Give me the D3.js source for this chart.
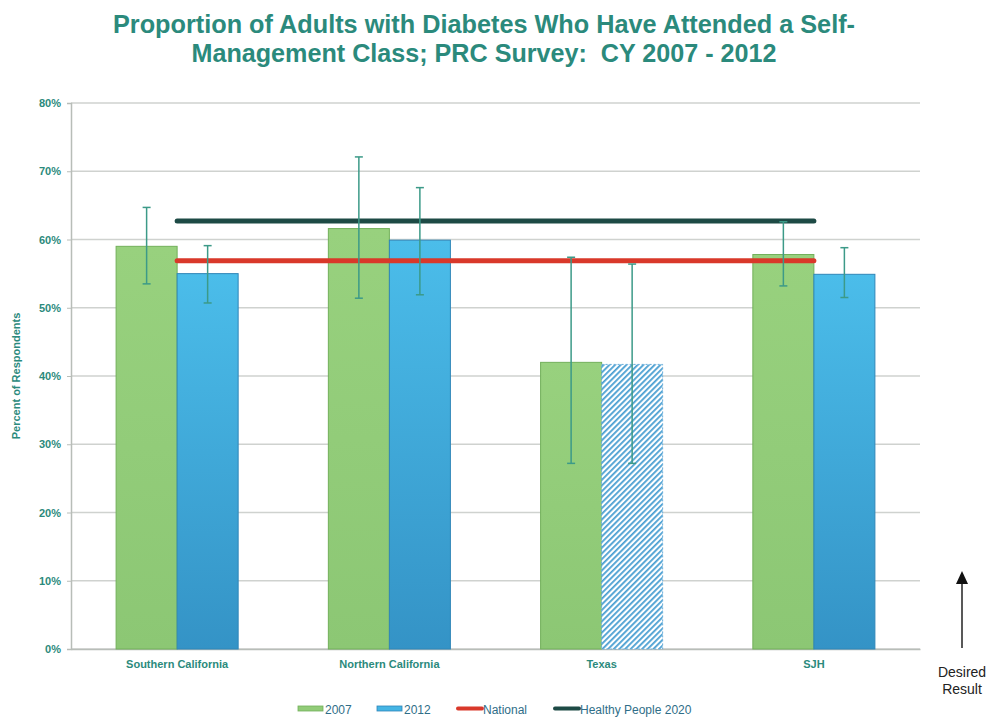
<!DOCTYPE html>
<html><head><meta charset="utf-8">
<script src="https://cdn.jsdelivr.net/npm/d3@7"></script>
<style>body{margin:0;background:#fff;} svg{display:block;font-family:"Liberation Sans",Arial,sans-serif;}</style>
</head><body><svg id="c" width="989" height="719"></svg>
<script>
const categories = ["Southern California","Northern California","Texas","SJH"];
const series = ["2007","2012"];
const values2007 = [59.0, 61.6, 42.0, 57.8];
const values2012 = [55.0, 59.9, 41.7, 54.9];
const errLow2007 = [53.5, 51.4, 27.2, 53.2];
const errHigh2007 = [64.7, 72.1, 57.4, 62.6];
const errLow2012 = [50.7, 51.9, 27.2, 51.5];
const errHigh2012 = [59.1, 67.6, 56.4, 58.8];
const hatched2012 = [false, false, true, false];
const nationalValue = 56.9;
const healthyPeopleValue = 62.7;
const yTicks = [0,10,20,30,40,50,60,70,80];
const titleLines = ["Proportion of Adults with Diabetes Who Have Attended a Self-","Management Class; PRC Survey:  CY 2007 - 2012"];

(function(){
const svg = d3.select("#c");
const teal = "#2b8a7c";
const pLeft = 71, pRight = 920, pTop = 103, pBottom = 649;

const x = d3.scaleBand().domain(categories).range([pLeft, pRight]).paddingInner(0.425).paddingOuter(0.2125);
const xs = d3.scaleBand().domain(series).range([0, x.bandwidth()]);
const y = d3.scaleLinear().domain([0, 80]).range([pBottom, pTop]);

const defs = svg.append("defs");
const g1 = defs.append("linearGradient").attr("id","gGreen").attr("x1",0).attr("y1",0).attr("x2",0).attr("y2",1);
g1.append("stop").attr("offset","0%").attr("stop-color","#98d17e");
g1.append("stop").attr("offset","100%").attr("stop-color","#8cc774");
const g2 = defs.append("linearGradient").attr("id","gBlue").attr("x1",0).attr("y1",0).attr("x2",0).attr("y2",1);
g2.append("stop").attr("offset","0%").attr("stop-color","#4bbdea");
g2.append("stop").attr("offset","100%").attr("stop-color","#3493c6");
const pat = defs.append("pattern").attr("id","hatch").attr("patternUnits","userSpaceOnUse")
  .attr("width",4).attr("height",4).attr("patternTransform","rotate(45)");
pat.append("rect").attr("width",4).attr("height",4).attr("fill","#fff");
pat.append("rect").attr("x",0).attr("width",1.8).attr("height",4).attr("fill","#4a9fd2");

// title
const titleWidths = [742, 585];
svg.append("g").selectAll("text").data(titleLines).join("text")
  .attr("x", 484).attr("y",(d,i)=>33+i*29).attr("text-anchor","middle")
  .attr("fill",teal).attr("font-size",26).attr("font-weight","bold")
  .attr("textLength",(d,i)=>titleWidths[i]).attr("lengthAdjust","spacingAndGlyphs")
  .style("white-space","pre").text(d=>d);

// gridlines
svg.append("g").selectAll("line").data(yTicks).join("line")
  .attr("x1",pLeft).attr("x2",pRight).attr("y1",d=>y(d)).attr("y2",d=>y(d))
  .attr("stroke","#cfd2cf").attr("stroke-width",1.5);

// y axis
const yAxis = svg.append("g").attr("transform",`translate(${pLeft},0)`)
  .call(d3.axisLeft(y).tickValues(yTicks).tickFormat(d=>d+"%").tickSize(4).tickPadding(6));
yAxis.select(".domain").attr("stroke","#b8bdb8").attr("stroke-width",1.5);
yAxis.selectAll(".tick line").attr("stroke","#b8bdb8");
yAxis.selectAll("text").attr("fill",teal).attr("font-size",11).attr("font-weight","bold").attr("font-family","Liberation Sans, Arial");

svg.append("text").attr("transform",`translate(20,${(pTop+pBottom)/2}) rotate(-90)`)
  .attr("text-anchor","middle").attr("fill",teal).attr("font-size",11).attr("font-weight","bold")
  .text("Percent of Respondents");

// x axis
const xAxis = svg.append("g").attr("transform",`translate(0,${pBottom})`)
  .call(d3.axisBottom(x).tickSize(0).tickPadding(11));
xAxis.select(".domain").attr("stroke","#b8bdb8").attr("stroke-width",1.5);
xAxis.selectAll("text").attr("fill",teal).attr("font-size",11).attr("font-weight","bold").attr("font-family","Liberation Sans, Arial");

// bars
const rows = categories.map((c,i)=>[
  {cat:c, s:"2007", v:values2007[i], lo:errLow2007[i], hi:errHigh2007[i], hatch:false},
  {cat:c, s:"2012", v:values2012[i], lo:errLow2012[i], hi:errHigh2012[i], hatch:hatched2012[i]}
]).flat();

const bars = svg.append("g");
bars.selectAll("rect").data(rows).join("rect")
  .attr("x",d=>x(d.cat)+xs(d.s)).attr("width",xs.bandwidth())
  .attr("y",d=>y(d.v)).attr("height",d=>y(0)-y(d.v))
  .attr("fill",d=>d.hatch?"url(#hatch)":(d.s==="2007"?"url(#gGreen)":"url(#gBlue)"))
  .attr("stroke",d=>d.hatch?"#6aaedb":(d.s==="2007"?"#72b05a":"#2f86b8"))
  .attr("stroke-dasharray",d=>d.hatch?"2,2":null).attr("stroke-width",1);

// reference lines
const lines = [{v:healthyPeopleValue,c:"#1d4a45"},{v:nationalValue,c:"#d9382a"}];
svg.append("g").selectAll("line").data(lines).join("line")
  .attr("x1",x(categories[0])+x.bandwidth()/2).attr("x2",x(categories[categories.length-1])+x.bandwidth()/2)
  .attr("y1",d=>y(d.v)).attr("y2",d=>y(d.v)).attr("stroke",d=>d.c).attr("stroke-width",5).attr("stroke-linecap","round");

// error bars
const eb = svg.append("g").attr("stroke","#3c9a88").attr("stroke-width",1.5);
rows.forEach(d=>{
  const cx = x(d.cat)+xs(d.s)+xs.bandwidth()/2;
  eb.append("line").attr("x1",cx).attr("x2",cx).attr("y1",y(d.lo)).attr("y2",y(d.hi));
  eb.append("line").attr("x1",cx-4).attr("x2",cx+4).attr("y1",y(d.lo)).attr("y2",y(d.lo));
  eb.append("line").attr("x1",cx-4).attr("x2",cx+4).attr("y1",y(d.hi)).attr("y2",y(d.hi));
});

// legend
const legendItems = [
  {label:"2007", type:"bar", fill:"#92cc78", stroke:"#72b05a", x:298},
  {label:"2012", type:"bar", fill:"#45b5e4", stroke:"#2f86b8", x:377},
  {label:"National", type:"line", fill:"#d9382a", x:456},
  {label:"Healthy People 2020", type:"line", fill:"#1d4a45", x:553}
];
const lg = svg.append("g");
legendItems.forEach(d=>{
  if(d.type==="bar") lg.append("rect").attr("x",d.x).attr("y",706).attr("width",25).attr("height",5).attr("fill",d.fill).attr("stroke",d.stroke).attr("stroke-width",0.8);
  else lg.append("line").attr("x1",d.x+2).attr("x2",d.x+26).attr("y1",708.5).attr("y2",708.5).attr("stroke",d.fill).attr("stroke-width",4).attr("stroke-linecap","round");
  lg.append("text").attr("x",d.x+27).attr("y",714).attr("fill","#2f6e88").attr("font-size",12).text(d.label);
});

// desired result arrow
svg.append("line").attr("x1",962).attr("x2",962).attr("y1",648).attr("y2",582)
  .attr("stroke","#222").attr("stroke-width",1.5);
svg.append("path").attr("d","M956,584L962,571L968,584Z").attr("fill","#111");
svg.append("text").attr("x",962).attr("y",677).attr("text-anchor","middle").attr("font-size",14).attr("fill","#222").text("Desired");
svg.append("text").attr("x",962).attr("y",694).attr("text-anchor","middle").attr("font-size",14).attr("fill","#222").text("Result");
})();
</script></body></html>
